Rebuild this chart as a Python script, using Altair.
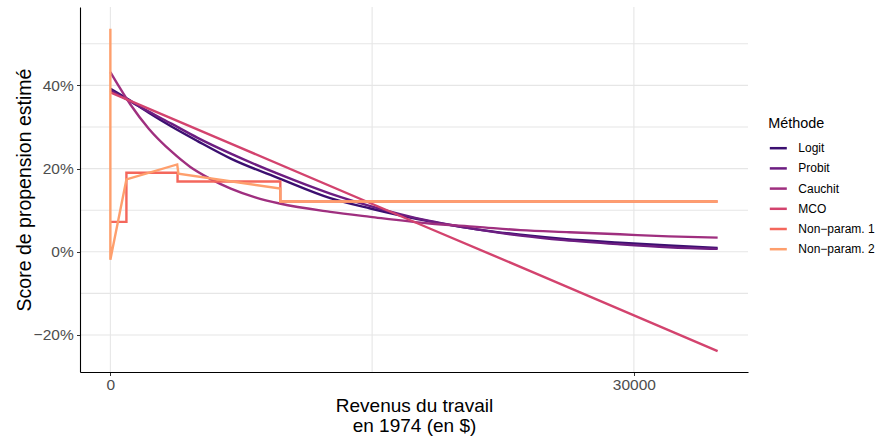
import altair as alt
import pandas as pd

# Estimated propensity scores against 1974 earnings, one curve per method
methods = ["Logit", "Probit", "Cauchit", "MCO", "Non−param. 1", "Non−param. 2"]
colors = ["#3B0F70", "#6C1D81", "#9F2F7F", "#D3436E", "#F4675C", "#FE9F6D"]

logit_x = [0, 1000, 2200, 3500, 5000, 6900, 9700, 12600, 14900, 18300, 21000, 23500, 26000, 29200, 32000, 34800]
logit_y = [39.2, 36.7, 33.4, 30.1, 26.6, 22.4, 17.6, 12.9, 10.4, 7.3, 5.4, 4.1, 3.1, 2.2, 1.5, 0.9]

probit_x = [0, 1000, 2200, 3500, 5000, 6900, 9700, 12600, 14900, 18300, 21000, 23500, 26000, 29200, 32000, 34800]
probit_y = [38.8, 36.5, 33.7, 30.8, 27.4, 23.6, 18.6, 14.0, 11.0, 7.4, 5.4, 3.9, 2.8, 1.8, 1.1, 0.7]

cauchit_x = [0, 500, 1150, 2200, 3530, 4580, 5700, 6900, 8300, 9700, 12600, 14900, 18300, 21000, 23500, 26300, 29200, 32000, 34800]
cauchit_y = [43.2, 39.7, 35.4, 29.6, 24.0, 20.4, 17.6, 15.2, 13.1, 11.6, 9.6, 8.4, 6.8, 6.0, 5.2, 4.7, 4.2, 3.7, 3.4]

mco_x = [0, 6900, 18300, 24100, 34800]
mco_y = [38.3, 26.0, 5.6, -4.7, -23.9]

# step function: each level holds until the next break
np1_x = [0, 920, 3850, 9740, 34800]
np1_y = [7.2, 19.0, 16.9, 12.1, 12.1]

np2_x = [0, 0, 920, 3830, 3900, 9740, 9740, 34800]
np2_y = [53.6, -1.9, 17.4, 21.0, 18.8, 15.2, 12.1, 12.1]

series = [
    ("Logit", logit_x, logit_y),
    ("Probit", probit_x, probit_y),
    ("Cauchit", cauchit_x, cauchit_y),
    ("MCO", mco_x, mco_y),
    ("Non−param. 1", np1_x, np1_y),
    ("Non−param. 2", np2_x, np2_y),
]

rows = []
for name, xs, ys in series:
    for i, (x, y) in enumerate(zip(xs, ys)):
        rows.append({"methode": name, "revenu": x, "score": y / 100, "ordre": i})
df = pd.DataFrame(rows)

grid_y = pd.DataFrame({"v": [-0.2, -0.1, 0.0, 0.1, 0.2, 0.3, 0.4, 0.5]})
grid_x = pd.DataFrame({"v": [0, 15000, 30000]})

FONT = "Liberation Sans"

x_scale = alt.Scale(domain=[-1740, 36540], nice=False, zero=False)
y_scale = alt.Scale(domain=[-0.289, 0.5885], nice=False, zero=False)

x_axis = alt.Axis(
    values=[0, 30000], format="d", grid=False, domain=True, ticks=True, zindex=1,
    title=["Revenus du travail", "en 1974 (en $)"],
    titleFont=FONT, titleFontSize=19, titleFontWeight="normal", titleColor="black",
    titleX=334, titleY=39.5, titleBaseline="alphabetic", titleAlign="center", titleLineHeight=20,
    labelFont=FONT, labelFontSize=15.5, labelColor="#4d4d4d", labelPadding=2.2,
    tickSize=3.5, tickColor="#333333", tickWidth=1,
    domainColor="#000000", domainWidth=1.1,
)
y_axis = alt.Axis(
    values=[-0.2, 0.0, 0.2, 0.4], format=".0%", grid=False, domain=True, ticks=True, zindex=1,
    title="Score de propension estimé",
    titleFont=FONT, titleFontSize=19.5, titleFontWeight="normal", titleColor="black",
    titleX=-50, titleY=182.5, titleBaseline="alphabetic", titleAlign="center", titleAngle=270,
    labelFont=FONT, labelFontSize=15.5, labelColor="#4d4d4d", labelPadding=3.3,
    tickSize=3.5, tickColor="#333333", tickWidth=1,
    domainColor="#000000", domainWidth=1.1,
)

hgrid = alt.Chart(grid_y).mark_rule(color="#e6e6e6", strokeWidth=1.1).encode(
    y=alt.Y("v:Q", scale=y_scale, axis=y_axis)
)
vgrid = alt.Chart(grid_x).mark_rule(color="#e6e6e6", strokeWidth=1.1).encode(
    x=alt.X("v:Q", scale=x_scale, axis=x_axis)
)

color_enc = alt.Color(
    "methode:N",
    scale=alt.Scale(domain=methods, range=colors),
    legend=alt.Legend(
        title="Méthode", orient="none", legendX=688.3, legendY=109.5, padding=0,
        titleFont=FONT, titleFontSize=14.4, titleFontWeight="normal", titleColor="black",
        titlePadding=7.3,
        labelFont=FONT, labelFontSize=12, labelColor="black", labelOffset=10,
        symbolType="stroke", symbolSize=289, symbolStrokeWidth=2.5, rowPadding=4.2,
    ),
)

layers = [hgrid, vgrid]
for name, _, _ in series:
    if name == "Non−param. 1":
        interp = "step-after"
    elif name in ("Logit", "Probit", "Cauchit"):
        interp = "monotone"
    else:
        interp = "linear"
    layers.append(
        alt.Chart(df).transform_filter(alt.datum.methode == name)
        .mark_line(strokeWidth=2.4, interpolate=interp)
        .encode(
            x=alt.X("revenu:Q", scale=x_scale, axis=x_axis),
            y=alt.Y("score:Q", scale=y_scale, axis=y_axis),
            color=color_enc,
            order=alt.Order("ordre:Q"),
        )
    )

chart = alt.layer(*layers).properties(
    width=668, height=365,
    padding={"left": 80, "top": 7, "right": 129, "bottom": 64},
    autosize=alt.AutoSizeParams(type="none"),
    background="white",
).configure_view(stroke=None)

chart.save("out.html", embed_options={"renderer": "svg", "actions": False})
